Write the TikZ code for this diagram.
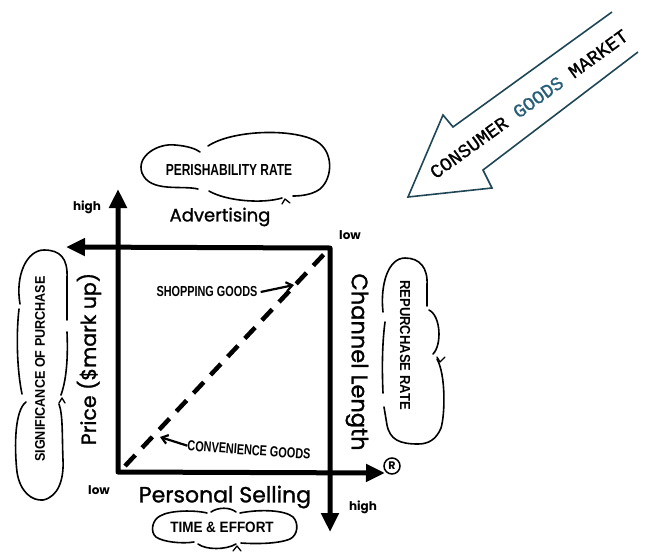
\documentclass[tikz,border=0pt]{standalone}
\usepackage{fontspec}
\setmainfont{Poppins}
\newfontfamily\axf[FakeBold=1.2]{Poppins}
\newfontfamily\condf[FakeStretch=0.75]{Liberation Sans}
\newfontfamily\condw[FakeStretch=0.9]{Liberation Sans}
\newfontfamily\monof[FakeBold=1]{Liberation Mono}
\usetikzlibrary{arrows.meta}
\definecolor{inkteal}{RGB}{30,70,85}
\definecolor{goodsblue}{RGB}{40,95,120}
\tikzset{
  axis/.style={line width=5pt, line join=round,
    {Triangle[length=19pt,width=17pt]}-{Triangle[length=19pt,width=17pt]}},
  dashdiag/.style={line width=4.5pt, dash pattern=on 15pt off 10pt},
  cloudline/.style={line width=1.6pt, line cap=round},
  caret/.style={line width=1.3pt, line cap=round, line join=round},
  pointer/.style={line width=2.2pt, -{Straight Barb[length=6pt,width=9pt]}},
  axlabel/.style={inner sep=0pt, font=\axf\fontsize{20}{22}\selectfont},
  small/.style={inner sep=0pt, font=\bfseries\fontsize{12}{13}\selectfont},
  cloudtext/.style={inner sep=0pt, font=\condf\bfseries\fontsize{15}{16}\selectfont},
  cloudtextw/.style={inner sep=0pt, font=\condw\bfseries\fontsize{14}{15}\selectfont},
}
\begin{document}
\begin{tikzpicture}[x=1pt,y=-1pt]
\useasboundingbox (0,0) rectangle (655,551);

% axes
\coordinate (O) at (118,472);
\coordinate (TR) at (330,248);
\coordinate (vtip) at (118,189);
\coordinate (rtip) at (385,473);
\coordinate (ltip) at (66,247);
\coordinate (dtip) at (330,532);
\draw[axis] (vtip) -- (O) -- (rtip);
\draw[axis] (ltip) -- (TR) -- (dtip);

% diagonal
\coordinate (dA) at (125,466);
\coordinate (dB) at (327,251);
\draw[dashdiag] (dA) -- (dB);

% axis labels
\node[small] (high1) at (87,207) {high};
\node[small] (low1) at (350,235) {low};
\node[small] (low2) at (99,490) {low};
\node[small] (high2) at (363,507) {high};
\node[axlabel, font=\axf\fontsize{18}{20}\selectfont] (adv) at (220,217) {Advertising};
\node[axlabel, rotate=90, font=\axf\fontsize{20.5}{22}\selectfont] (price) at (89,359) {Price (\$mark up)};
\node[axlabel, rotate=-90, font=\axf\fontsize{22.5}{24}\selectfont] (chan) at (357,362) {Channel Length};
\node[axlabel, font=\axf\fontsize{22}{24}\selectfont] (pers) at (225,497) {Personal Selling};

% registered mark
\node[circle, draw, line width=1.5pt, inner sep=1pt, minimum size=16pt,
      font=\bfseries\fontsize{11}{12}\selectfont] (reg) at (392,466) {R};

% goods labels
\node[cloudtext, font=\condf\bfseries\fontsize{14.5}{15}\selectfont] (shop) at (207,292) {SHOPPING GOODS};
\coordinate (shopend) at (294,285);
\path (shop.east) ++(3,0) coordinate (shopstart);
\draw[pointer] (shopstart) -- (shopend);
\node[cloudtext, rotate=-4, font=\condf\bfseries\fontsize{14.5}{15}\selectfont] (conv) at (249,450) {CONVENIENCE GOODS};
\coordinate (convend) at (160,437);
\draw[pointer] (conv.west) -- (convend);

% perishability cloud
\node[cloudtext, font=\condf\bfseries\fontsize{16}{17}\selectfont] (perish) at (229,170) {PERISHABILITY RATE};
\draw[cloudline] (198,189) .. controls (182,185) and (150,193) .. (142,173)
   .. controls (136,156) and (158,143) .. (175,145) .. controls (188,146) and (196,149) .. (200,152);
\draw[cloudline] (208,146) .. controls (232,130) and (292,128) .. (316,141)
   .. controls (334,151) and (333,178) .. (320,189) .. controls (312,195) and (300,196) .. (293,196);
\draw[cloudline] (282,198) .. controls (262,204) and (226,201) .. (209,191);
\draw[caret] (282,204) -- (285,199) -- (290,203);

% significance cloud
\node[cloudtextw, rotate=90] (sig) at (40,369) {SIGNIFICANCE OF PURCHASE};
\draw[cloudline] (20,304) .. controls (15,275) and (27,250) .. (44,250)
   .. controls (60,250) and (68,258) .. (67,278) -- (67,320);
\draw[cloudline] (67,332) .. controls (68,355) and (67,378) .. (61,395);
\draw[cloudline] (22,394) .. controls (17,370) and (16,335) .. (19,309);
\draw[cloudline] (26,402) .. controls (15,410) and (14,445) .. (17,472)
   .. controls (20,492) and (32,501) .. (43,500) .. controls (58,497) and (64,480) .. (63,460)
   .. controls (62,435) and (63,415) .. (59,404);
\draw[caret] (59,403) -- (62,398) -- (65,403);

% repurchase cloud
\node[cloudtextw, font=\condw\bfseries\fontsize{14.5}{15}\selectfont, rotate=-90] (rep) at (405,345) {REPURCHASE RATE};
\draw[cloudline] (383,312) .. controls (380,285) and (388,258) .. (405,258)
   .. controls (420,258) and (428,268) .. (427,285) -- (427,306);
\draw[cloudline] (429,310) .. controls (441,316) and (442,345) .. (433,354);
\draw[cloudline] (437,359) .. controls (446,375) and (445,415) .. (441,428)
   .. controls (436,440) and (428,444) .. (418,444) .. controls (400,444) and (390,440) .. (387,425) -- (384,407);
\draw[cloudline] (385,322) .. controls (382,345) and (382,370) .. (383,393);
\draw[caret] (437,357) -- (440,362) -- (445,357);

% time & effort cloud
\node[cloudtextw, font=\condw\bfseries\fontsize{15}{16}\selectfont] (time) at (222,527) {TIME \& EFFORT};
\draw[cloudline] (207,513) .. controls (195,510) and (170,510) .. (160,516)
   .. controls (152,520) and (150,532) .. (156,537) .. controls (163,542) and (182,544) .. (194,542);
\draw[cloudline] (211,512) .. controls (218,507) and (230,507) .. (236,512);
\draw[cloudline] (240,513) .. controls (260,509) and (285,510) .. (293,517)
   .. controls (299,523) and (298,535) .. (290,539) .. controls (278,544) and (255,544) .. (241,543);
\draw[cloudline] (236,544) .. controls (226,550) and (206,550) .. (198,544);
\draw[caret] (233,551) -- (237,546) -- (241,551);

% consumer goods market arrow
\coordinate (m1) at (612,12);
\coordinate (m2) at (453,127);
\coordinate (m3) at (443,115);
\coordinate (mtip) at (408,197);
\coordinate (m5) at (492,188);
\coordinate (m6) at (483,170);
\coordinate (m7) at (638,52);
\draw[line width=1.6pt, color=inkteal, line join=miter] (m1) -- (m2) -- (m3) -- (mtip) -- (m5) -- (m6) -- (m7);
\node[rotate=36, inner sep=0pt, font=\monof\fontsize{19}{20}\selectfont] (market) at (529,104)
  {CONSUMER \textcolor{goodsblue}{GOODS} MARKET};
\end{tikzpicture}
\end{document}
